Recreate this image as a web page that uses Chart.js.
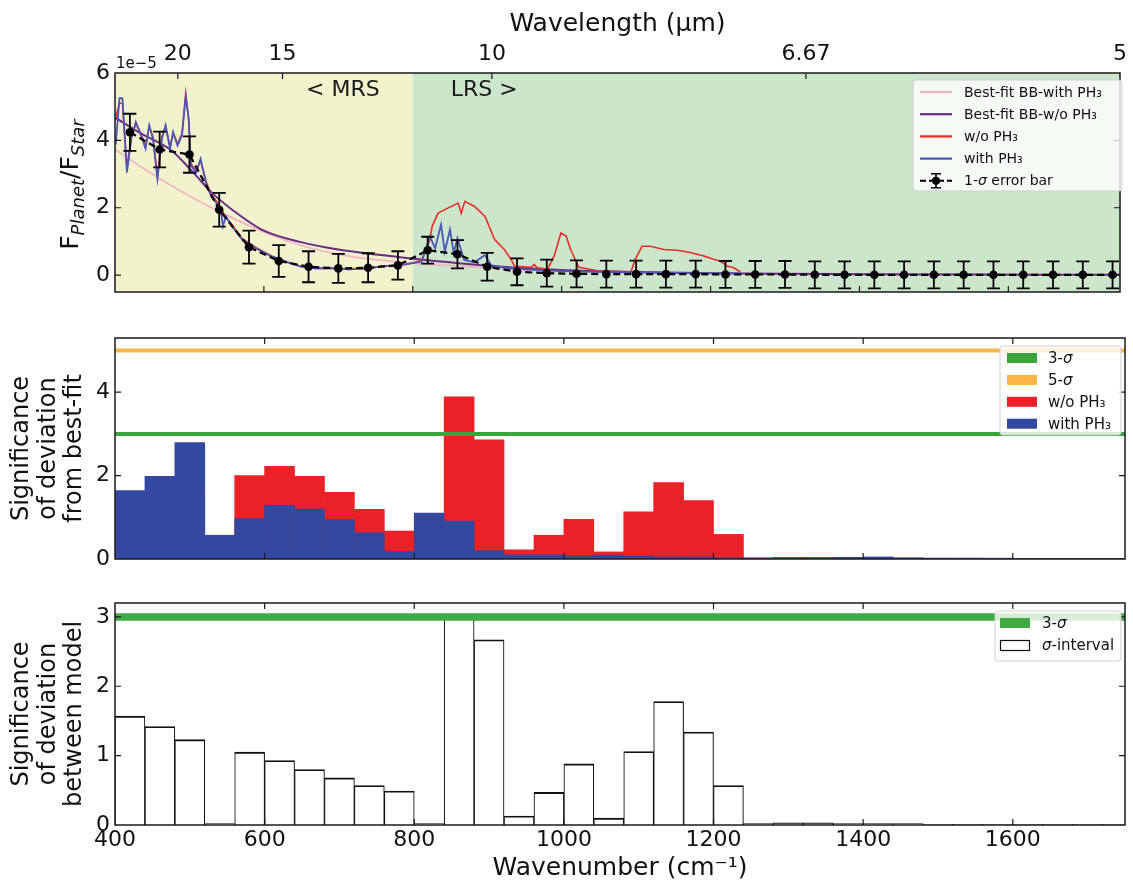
<!DOCTYPE html>
<html>
<head>
<meta charset="utf-8">
<script src="https://cdn.jsdelivr.net/npm/chart.js@4.4.1/dist/chart.umd.min.js"></script>
<style>
html,body{margin:0;padding:0;background:#fff;}
#wrap{position:relative;width:1133px;height:886px;overflow:hidden;background:#fff;}
canvas{position:absolute;left:0;}
</style>
</head>
<body>
<div id="wrap">
<canvas id="c1" width="1133" height="314" style="top:0px;width:1133px;height:314px"></canvas>
<canvas id="c2" width="1133" height="282" style="top:300px;width:1133px;height:282px"></canvas>
<canvas id="c3" width="1133" height="316" style="top:570px;width:1133px;height:316px"></canvas>
</div>
<script>
// ---------------- DATA ----------------
const wnRange = [400, 1750];
const wnTicks = [400, 600, 800, 1000, 1200, 1400, 1600];
const wlRange = [400, 2000];
const wlTickWn = [500, 666.67, 1000, 1500, 2000];
const wlTickLabels = ['20', '15', '10', '6.67', '5'];
const fluxTicks = [0, 2, 4, 6];
const sigTicks = [0, 2, 4];
const diffTicks = [0, 1, 2, 3];
const regionEdges = [400, 800, 1750];
const regionNames = ['< MRS', 'LRS >'];
const sigma3 = 3;
const sigma5 = 5;

const binCenters = [420, 460, 500, 540, 580, 620, 660, 700, 740, 780,
  820, 860, 900, 940, 980, 1020, 1060, 1100, 1140, 1180,
  1220, 1260, 1300, 1340, 1380, 1420, 1460, 1500, 1540, 1580,
  1620, 1660, 1700, 1740];
const obsFlux = [4.24, 3.73, 3.58, 1.94, 0.83, 0.42, 0.25, 0.20, 0.22, 0.29,
  0.74, 0.62, 0.25, 0.10, 0.06, 0.04, 0.03, 0.03, 0.03, 0.03,
  0.02, 0.02, 0.02, 0.01, 0.01, 0.01, 0.01, 0.01, 0.01, 0.01,
  0.01, 0.01, 0.01, 0.01];
const obsErr = [0.55, 0.53, 0.54, 0.50, 0.49, 0.47, 0.46, 0.43, 0.43, 0.42,
  0.40, 0.42, 0.41, 0.40, 0.40, 0.40, 0.40, 0.40, 0.40, 0.40,
  0.40, 0.40, 0.40, 0.40, 0.40, 0.40, 0.40, 0.40, 0.40, 0.40,
  0.40, 0.40, 0.40, 0.40];

const bbWithX = [400, 450, 500, 550, 600, 650, 700, 750, 800, 900, 1000, 1100, 1200, 1300, 1400, 1550, 1750];
const bbWithY = [3.73, 3.00, 2.35, 1.78, 1.28, 0.88, 0.62, 0.46, 0.36, 0.22, 0.12, 0.07, 0.05, 0.03, 0.02, 0.015, 0.01];
const bbWithoutX = [400, 433, 477, 505, 530, 557, 600, 650, 700, 780, 850, 900, 1000, 1100, 1200, 1300, 1400, 1550, 1750];
const bbWithoutY = [4.68, 4.23, 3.68, 3.05, 2.45, 1.95, 1.32, 0.98, 0.76, 0.54, 0.38, 0.28, 0.15, 0.09, 0.06, 0.04, 0.03, 0.02, 0.01];

const specWithX = [401, 406, 410, 416, 422, 428, 435, 441, 446, 451, 457, 463, 468, 474, 478, 484, 490, 495, 499, 502,
  509, 515, 522, 529, 536, 542, 545, 549, 557, 571, 589, 611, 633, 650, 669, 690, 714, 740, 758, 790,
  800, 812, 823, 830, 838, 843, 850, 855, 860, 869, 883, 897, 905, 923, 950, 1000, 1050, 1100, 1150, 1200, 1240];
const specWithY = [3.88, 5.25, 5.25, 3.05, 4.05, 4.55, 4.15, 3.75, 4.45, 4.05, 2.85, 4.05, 4.45, 3.75, 4.25, 3.85, 4.15, 5.30, 4.65, 3.25,
  3.05, 3.45, 2.75, 2.35, 2.15, 1.95, 1.45, 1.75, 1.45, 1.05, 0.80, 0.55, 0.37, 0.25, 0.20, 0.21, 0.17, 0.20, 0.26, 0.32,
  0.36, 0.40, 1.15, 0.80, 1.50, 0.70, 1.35, 0.65, 1.10, 0.45, 0.38, 0.60, 0.30, 0.22, 0.17, 0.12, 0.10, 0.08, 0.07, 0.06, 0.05];

const specWoX = [400, 406, 410, 416, 422, 428, 435, 441, 446, 451, 457, 463, 468, 474, 478, 484, 490, 495, 499, 502,
  509, 515, 522, 529, 536, 542, 549, 557, 571, 589, 611, 633, 650, 669, 690, 714, 740, 758, 790, 800,
  812, 823, 826, 834, 847, 861, 865, 870, 883, 897, 910, 923, 932, 937, 959, 963, 967, 981, 990, 999,
  1006, 1012, 1023, 1048, 1093, 1099, 1108, 1119, 1137, 1155, 1173, 1191, 1204, 1213, 1222, 1231, 1240];
const specWoY = [4.60, 5.10, 5.10, 3.20, 4.10, 4.50, 4.20, 3.80, 4.40, 4.10, 2.95, 4.10, 4.40, 3.80, 4.20, 3.90, 4.20, 5.40, 4.60, 3.30,
  3.10, 3.40, 2.80, 2.40, 2.20, 2.00, 1.70, 1.50, 1.08, 0.82, 0.56, 0.38, 0.26, 0.20, 0.21, 0.17, 0.20, 0.26, 0.32, 0.36,
  0.45, 1.05, 1.45, 1.84, 1.99, 2.14, 1.84, 2.19, 2.04, 1.74, 1.06, 0.76, 0.47, 0.26, 0.23, 0.32, 0.22, 0.18, 0.57, 1.25,
  1.16, 0.76, 0.23, 0.13, 0.10, 0.47, 0.86, 0.86, 0.76, 0.74, 0.67, 0.57, 0.47, 0.42, 0.27, 0.22, 0.10];

const sigWith = [1.64, 1.98, 2.79, 0.57, 0.97, 1.29, 1.20, 0.95, 0.63, 0.18,
  1.10, 0.91, 0.20, 0.10, 0.10, 0.08, 0.09, 0.07, 0.05, 0.05,
  0.03, 0.02, 0.02, 0.02, 0.04, 0.05, 0.03, 0.02, 0.02, 0.02,
  0.01, 0.01, 0.01, 0.01];
const sigWithout = [0.07, 0.56, 1.56, 0.55, 2.00, 2.22, 1.98, 1.60, 1.19, 0.67,
  1.08, 3.89, 2.86, 0.22, 0.57, 0.95, 0.17, 1.13, 1.83, 1.40,
  0.59, 0.03, 0.04, 0.04, 0.03, 0.03, 0.02, 0.02, 0.02, 0.01,
  0.01, 0.01, 0.01, 0.01];
const sigDiff = [1.57, 1.42, 1.23, 0.02, 1.05, 0.93, 0.80, 0.68, 0.57, 0.49,
  0.02, 3.00, 2.67, 0.13, 0.47, 0.88, 0.10, 1.06, 1.78, 1.34,
  0.57, 0.02, 0.03, 0.03, 0.02, 0.02, 0.02, 0.01, 0.01, 0.01,
  0.01, 0.01, 0.01, 0.01];

// ---------------- HELPERS ----------------
const FAM = "'DejaVu Sans', sans-serif";
Chart.defaults.font.family = FAM;
Chart.defaults.color = '#111';
Chart.defaults.animation = false;

function pts(xs, ys) { return xs.map((x, i) => ({x: x, y: ys[i]})); }
function setTicks(arr) { return s => { s.ticks = arr.map(v => ({value: v})); }; }

function rrect(ctx, x, y, w, h, r) {
  ctx.beginPath();
  ctx.moveTo(x + r, y); ctx.lineTo(x + w - r, y); ctx.quadraticCurveTo(x + w, y, x + w, y + r);
  ctx.lineTo(x + w, y + h - r); ctx.quadraticCurveTo(x + w, y + h, x + w - r, y + h);
  ctx.lineTo(x + r, y + h); ctx.quadraticCurveTo(x, y + h, x, y + h - r);
  ctx.lineTo(x, y + r); ctx.quadraticCurveTo(x, y, x + r, y); ctx.closePath();
}
function legendBox(ctx, x, y, w, h) {
  ctx.save();
  rrect(ctx, x, y, w, h, 3);
  ctx.fillStyle = 'rgba(255,255,255,0.8)'; ctx.fill();
  ctx.strokeStyle = '#cfcfcf'; ctx.lineWidth = 1; ctx.stroke();
  ctx.restore();
}
function drawLabel(ctx, text, x, y, size) {
  const parts = text.split('σ');
  let cx = x;
  ctx.textBaseline = 'middle'; ctx.textAlign = 'left'; ctx.fillStyle = '#111';
  parts.forEach((p, i) => {
    ctx.font = size + 'px ' + FAM;
    ctx.fillText(p, cx, y); cx += ctx.measureText(p).width;
    if (i < parts.length - 1) {
      ctx.font = 'italic ' + size + 'px ' + FAM;
      ctx.fillText('σ', cx, y); cx += ctx.measureText('σ').width;
    }
  });
}

function frameTicks(topId) {
  return {
    id: 'frameTicks',
    afterDatasetsDraw(chart) {
      const {ctx, chartArea: a, scales} = chart;
      const L = 6;
      ctx.save();
      ctx.strokeStyle = '#1a1a1a';
      ctx.lineWidth = 1.2;
      ctx.beginPath();
      const xs = scales.x, ts = scales[topId], ys = scales.y;
      xs.ticks.forEach(t => { const p = xs.getPixelForValue(t.value); if (p > a.left + 1 && p < a.right - 1) { ctx.moveTo(p, a.bottom); ctx.lineTo(p, a.bottom - L); } });
      ts.ticks.forEach(t => { const p = ts.getPixelForValue(t.value); if (p > a.left + 1 && p < a.right - 1) { ctx.moveTo(p, a.top); ctx.lineTo(p, a.top + L); } });
      ys.ticks.forEach(t => { const p = ys.getPixelForValue(t.value); if (p > a.top + 1 && p < a.bottom - 1) { ctx.moveTo(a.left, p); ctx.lineTo(a.left + L, p); ctx.moveTo(a.right, p); ctx.lineTo(a.right - L, p); } });
      ctx.stroke();
      ctx.lineWidth = 1.5;
      ctx.strokeRect(a.left, a.top, a.right - a.left, a.bottom - a.top);
      ctx.restore();
    }
  };
}

const gridOff = {display: false, drawTicks: false};
const borderOff = {display: false};
const tickFont = {size: 22};
const yTitleFont = {size: 24, lineHeight: 1.1};

// ---------------- TOP PANEL ----------------
const regionColors = ['#f2f2cc', '#cce6cc'];
const regionPlugin = {
  id: 'regions',
  beforeDatasetsDraw(chart) {
    const {ctx, chartArea: a, scales: {x}} = chart;
    ctx.save();
    for (let i = 0; i < regionEdges.length - 1; i++) {
      const x0 = x.getPixelForValue(regionEdges[i]), x1 = x.getPixelForValue(regionEdges[i + 1]);
      ctx.fillStyle = regionColors[i];
      ctx.fillRect(x0, a.top, x1 - x0, a.bottom - a.top);
    }
    const xb = x.getPixelForValue(regionEdges[1]);
    ctx.fillStyle = '#1a1a1a';
    ctx.font = '22px ' + FAM;
    ctx.textBaseline = 'alphabetic';
    ctx.textAlign = 'right';
    ctx.fillText(regionNames[0], xb - 33, a.top + 23);
    ctx.textAlign = 'left';
    ctx.fillText(regionNames[1], xb + 38, a.top + 23);
    ctx.restore();
  }
};
const errorBarPlugin = {
  id: 'errorBars',
  afterDatasetDraw(chart, args) {
    const ds = chart.data.datasets[args.index];
    if (!ds.errors) return;
    const {ctx, scales: {x, y}} = chart;
    ctx.save();
    ctx.strokeStyle = '#000'; ctx.lineWidth = 1.8;
    ctx.beginPath();
    ds.data.forEach((d, i) => {
      const px = x.getPixelForValue(d.x);
      const y0 = y.getPixelForValue(d.y - ds.errors[i]);
      const y1 = y.getPixelForValue(d.y + ds.errors[i]);
      ctx.moveTo(px, y0); ctx.lineTo(px, y1);
      ctx.moveTo(px - 6.5, y0); ctx.lineTo(px + 6.5, y0);
      ctx.moveTo(px - 6.5, y1); ctx.lineTo(px + 6.5, y1);
    });
    ctx.stroke();
    ctx.restore();
  }
};
const topLegend = {
  id: 'topLegend',
  afterDraw(chart) {
    const ctx = chart.ctx;
    legendBox(ctx, 913, 80, 209, 111);
    const order = [0, 1, 2, 3, 4];
    order.forEach((di, r) => {
      const ds = chart.data.datasets[di];
      const cy = 92 + r * 22.2;
      ctx.save();
      if (ds.errors) {
        ctx.strokeStyle = '#000'; ctx.lineWidth = 2; ctx.setLineDash([6, 3]);
        ctx.beginPath(); ctx.moveTo(920, cy); ctx.lineTo(952, cy); ctx.stroke();
        ctx.setLineDash([]); ctx.lineWidth = 1.6; ctx.beginPath();
        ctx.moveTo(936, cy - 7); ctx.lineTo(936, cy + 7);
        ctx.moveTo(931, cy - 7); ctx.lineTo(941, cy - 7);
        ctx.moveTo(931, cy + 7); ctx.lineTo(941, cy + 7); ctx.stroke();
        ctx.fillStyle = '#000'; ctx.beginPath(); ctx.arc(936, cy, 4, 0, Math.PI * 2); ctx.fill();
      } else {
        ctx.strokeStyle = ds.borderColor; ctx.lineWidth = 2.2;
        ctx.beginPath(); ctx.moveTo(920, cy); ctx.lineTo(952, cy); ctx.stroke();
      }
      drawLabel(ctx, ds.label, 964, cy + 1, 14);
      ctx.restore();
    });
  }
};
const fluxTitle = {
  id: 'fluxTitle',
  afterDraw(chart) {
    const {ctx, chartArea: a} = chart;
    const parts = [
      {t: 'F', f: '25px ' + FAM, dy: 0},
      {t: 'Planet', f: 'italic 18px ' + FAM, dy: 6},
      {t: '/F', f: '25px ' + FAM, dy: 0},
      {t: 'Star', f: 'italic 18px ' + FAM, dy: 6}
    ];
    ctx.save();
    ctx.fillStyle = '#111'; ctx.textBaseline = 'alphabetic'; ctx.textAlign = 'left';
    let total = 0;
    parts.forEach(p => { ctx.font = p.f; p.w = ctx.measureText(p.t).width; total += p.w; });
    ctx.translate(78, (a.top + a.bottom) / 2 + 2);
    ctx.rotate(-Math.PI / 2);
    let cx = -total / 2;
    parts.forEach(p => { ctx.font = p.f; ctx.fillText(p.t, cx, p.dy); cx += p.w; });
    ctx.restore();
    ctx.save();
    ctx.fillStyle = '#111'; ctx.font = '15px ' + FAM; ctx.textBaseline = 'alphabetic'; ctx.textAlign = 'left';
    ctx.fillText('1e\u22125', a.left + 1, a.top - 5);
    ctx.restore();
  }
};

new Chart(document.getElementById('c1'), {
  type: 'line',
  data: {
    datasets: [
      {label: 'Best-fit BB-with PH₃', data: pts(bbWithX, bbWithY), borderColor: '#f2b6c3', borderWidth: 1.8, pointRadius: 0, cubicInterpolationMode: 'monotone', order: 4},
      {label: 'Best-fit BB-w/o PH₃', data: pts(bbWithoutX, bbWithoutY), borderColor: '#6c2c86', borderWidth: 2, pointRadius: 0, cubicInterpolationMode: 'monotone', order: 3},
      {label: 'w/o PH₃', data: pts(specWoX, specWoY), borderColor: '#ec2c24', borderWidth: 1.6, pointRadius: 0, order: 2},
      {label: 'with PH₃', data: pts(specWithX, specWithY), borderColor: '#4a56b8', borderWidth: 1.8, pointRadius: 0, order: 1},
      {label: '1-σ error bar', data: pts(binCenters, obsFlux), errors: obsErr, borderColor: '#000', borderWidth: 2.2, borderDash: [7, 4], pointRadius: 4.3, pointBackgroundColor: '#000', pointBorderWidth: 0, order: 0}
    ]
  },
  options: {
    responsive: false, animation: false,
    layout: {padding: {left: 0, right: 8, top: 0, bottom: 0}},
    plugins: {legend: {display: false}, tooltip: {enabled: false}},
    scales: {
      x: {type: 'linear', position: 'bottom', min: wnRange[0], max: wnRange[1], afterBuildTicks: setTicks(wnTicks),
        ticks: {display: false}, grid: gridOff, border: borderOff, afterFit: s => { s.height = 22; }},
      x2: {type: 'linear', position: 'top', min: wlRange[0], max: wlRange[1], afterBuildTicks: setTicks(wlTickWn),
        ticks: {font: tickFont, padding: 6, maxRotation: 0, autoSkip: false, callback: (v, i) => wlTickLabels[i]},
        grid: gridOff, border: borderOff,
        title: {display: true, text: 'Wavelength (μm)', font: {size: 25, lineHeight: 1.2}, padding: {top: 9, bottom: 0}},
        afterFit: s => { s.height = 73; }},
      y: {min: -0.5, max: 6, afterBuildTicks: setTicks(fluxTicks),
        ticks: {font: tickFont, padding: 5}, grid: gridOff, border: borderOff,
        afterFit: s => { s.width = 115; }}
    }
  },
  plugins: [regionPlugin, errorBarPlugin, frameTicks('x2'), fluxTitle, topLegend]
});

// ---------------- MIDDLE PANEL ----------------
const midLegend = {
  id: 'midLegend',
  afterDraw(chart) {
    const ctx = chart.ctx;
    legendBox(ctx, 1000, 46, 121, 89);
    const items = [0, 1, 2, 3];
    items.forEach((di, r) => {
      const ds = chart.data.datasets[di];
      const cy = 58 + r * 21.9;
      ctx.save();
      ctx.fillStyle = ds.type === 'line' ? ds.borderColor : ds.backgroundColor;
      ctx.fillRect(1007, cy - 5, 30, 10);
      drawLabel(ctx, ds.label, 1048, cy + 1, 15);
      ctx.restore();
    });
  }
};
new Chart(document.getElementById('c2'), {
  type: 'bar',
  data: {
    datasets: [
      {type: 'line', label: '3-σ', data: pts(wnRange, [sigma3, sigma3]), borderColor: '#3ba53b', borderWidth: 4, pointRadius: 0, order: 0},
      {type: 'line', label: '5-σ', data: pts(wnRange, [sigma5, sigma5]), borderColor: '#fbb547', borderWidth: 4, pointRadius: 0, order: 1},
      {type: 'bar', label: 'w/o PH₃', data: pts(binCenters, sigWithout), backgroundColor: '#ec2027', grouped: false, barPercentage: 1, categoryPercentage: 1, borderWidth: 0, order: 3},
      {type: 'bar', label: 'with PH₃', data: pts(binCenters, sigWith), backgroundColor: '#35489f', grouped: false, barPercentage: 1, categoryPercentage: 1, borderWidth: 0, order: 2}
    ]
  },
  options: {
    responsive: false, animation: false,
    layout: {padding: {left: 0, right: 8, top: 38, bottom: 0}},
    plugins: {legend: {display: false}, tooltip: {enabled: false}},
    scales: {
      x: {type: 'linear', min: wnRange[0], max: wnRange[1], offset: false, afterBuildTicks: setTicks(wnTicks),
        ticks: {display: false}, grid: gridOff, border: borderOff, afterFit: s => { s.height = 23; }},
      y: {min: 0, max: 5.3, afterBuildTicks: setTicks(sigTicks),
        ticks: {font: tickFont, padding: 5}, grid: gridOff, border: borderOff,
        title: {display: true, text: ['Significance', 'of deviation', 'from best-fit'], font: yTitleFont, padding: {top: 9, bottom: 0}},
        afterFit: s => { s.width = 115; }}
    }
  },
  plugins: [frameTicks('x'), midLegend]
});

// ---------------- BOTTOM PANEL ----------------
const botLegend = {
  id: 'botLegend',
  afterDraw(chart) {
    const ctx = chart.ctx;
    legendBox(ctx, 995, 41, 126, 50);
    const d0 = chart.data.datasets[0], d1 = chart.data.datasets[1];
    ctx.save();
    ctx.fillStyle = d0.borderColor;
    ctx.fillRect(1000, 48, 30, 10);
    drawLabel(ctx, d0.label, 1042, 54, 15);
    ctx.fillStyle = '#fff'; ctx.strokeStyle = '#111'; ctx.lineWidth = 1.2;
    ctx.fillRect(1000.5, 70.5, 29, 10); ctx.strokeRect(1000.5, 70.5, 29, 10);
    drawLabel(ctx, d1.label, 1042, 76, 15);
    ctx.restore();
  }
};
new Chart(document.getElementById('c3'), {
  type: 'bar',
  data: {
    datasets: [
      {type: 'line', label: '3-σ', data: pts(wnRange, [sigma3, sigma3]), borderColor: '#3fab45', borderWidth: 7.5, pointRadius: 0, order: 0},
      {type: 'bar', label: 'σ-interval', data: pts(binCenters, sigDiff), backgroundColor: '#ffffff', borderColor: '#111',
        borderWidth: {top: 1.9, left: 1.1, right: 1.1, bottom: 0}, barPercentage: 1, categoryPercentage: 1, order: 1}
    ]
  },
  options: {
    responsive: false, animation: false,
    layout: {padding: {left: 0, right: 8, top: 33, bottom: 0}},
    plugins: {legend: {display: false}, tooltip: {enabled: false}},
    scales: {
      x: {type: 'linear', min: wnRange[0], max: wnRange[1], offset: false, afterBuildTicks: setTicks(wnTicks),
        ticks: {font: tickFont, padding: 2, maxRotation: 0, autoSkip: false, callback: v => String(v)},
        grid: gridOff, border: borderOff,
        title: {display: true, text: 'Wavenumber (cm⁻¹)', font: {size: 25, lineHeight: 1.2}, padding: {top: 0, bottom: 3}},
        afterFit: s => { s.height = 61; }},
      y: {min: 0, max: 3.2, afterBuildTicks: setTicks(diffTicks),
        ticks: {font: tickFont, padding: 5}, grid: gridOff, border: borderOff,
        title: {display: true, text: ['Significance', 'of deviation', 'between model'], font: yTitleFont, padding: {top: 9, bottom: 0}},
        afterFit: s => { s.width = 115; }}
    }
  },
  plugins: [frameTicks('x'), botLegend]
});
</script>
</body>
</html>
